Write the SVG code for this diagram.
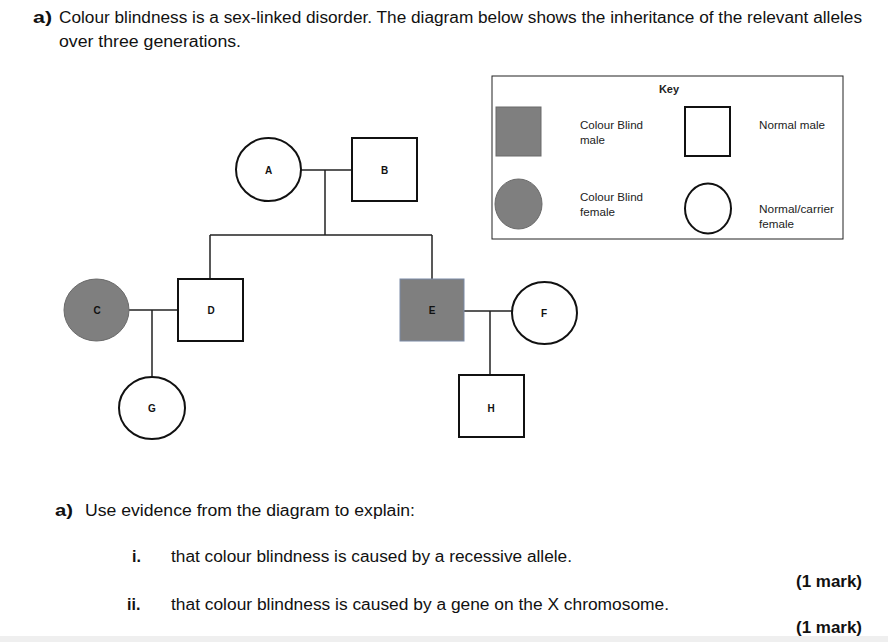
<svg xmlns="http://www.w3.org/2000/svg" width="888" height="642" viewBox="0 0 888 642">
<style>
.t{font-family:"Liberation Sans",Arial,sans-serif;font-size:16px;fill:#111}
.b{font-weight:bold}
.k{font-family:"Liberation Sans",Arial,sans-serif;font-size:11px;fill:#222}
.l{font-family:"Liberation Sans",Arial,sans-serif;font-size:10px;font-weight:bold;fill:#111;text-anchor:middle}
.w{fill:#fff;stroke:#111;stroke-width:2}
.g{fill:#7f7f7f;stroke:#6a6a6a;stroke-width:1}
.c{stroke:#222;stroke-width:1.5;fill:none}
</style>
<rect x="0" y="0" width="888" height="642" fill="#fff"/>
<rect x="0" y="636" width="888" height="6" fill="#efefef"/>
<g id="header">
<text class="t b" x="33" y="23" textLength="19" lengthAdjust="spacingAndGlyphs">a)</text>
<text class="t" x="59" y="23" textLength="803" lengthAdjust="spacingAndGlyphs">Colour blindness is a sex-linked disorder. The diagram below shows the inheritance of the relevant alleles</text>
<text class="t" x="59" y="47" textLength="182" lengthAdjust="spacingAndGlyphs">over three generations.</text>
</g>
<g id="key">
<rect x="492" y="76" width="351" height="163" fill="#fff" stroke="#222" stroke-width="1"/>
<text class="k b" x="669" y="93" text-anchor="middle">Key</text>
<rect class="g" x="496" y="107" width="45" height="49"/>
<text class="k" x="580" y="129" textLength="63" lengthAdjust="spacingAndGlyphs">Colour Blind</text>
<text class="k" x="580" y="144" textLength="25" lengthAdjust="spacingAndGlyphs">male</text>
<rect class="w" x="685" y="107" width="45" height="49"/>
<text class="k" x="759" y="129" textLength="66" lengthAdjust="spacingAndGlyphs">Normal male</text>
<ellipse class="g" cx="518.5" cy="204" rx="23.5" ry="25"/>
<text class="k" x="580" y="201" textLength="63" lengthAdjust="spacingAndGlyphs">Colour Blind</text>
<text class="k" x="580" y="216" textLength="35" lengthAdjust="spacingAndGlyphs">female</text>
<ellipse class="w" cx="708" cy="208.5" rx="23" ry="25"/>
<text class="k" x="759" y="213" textLength="75" lengthAdjust="spacingAndGlyphs">Normal/carrier</text>
<text class="k" x="759" y="228" textLength="35" lengthAdjust="spacingAndGlyphs">female</text>
</g>
<g id="connectors">
<line class="c" x1="301" y1="170" x2="352" y2="170"/>
<line class="c" x1="325" y1="170" x2="325" y2="235"/>
<line class="c" x1="210" y1="235" x2="432" y2="235"/>
<line class="c" x1="210" y1="235" x2="210" y2="279"/>
<line class="c" x1="432" y1="235" x2="432" y2="279"/>
<line class="c" x1="129" y1="310" x2="178" y2="310"/>
<line class="c" x1="152" y1="310" x2="152" y2="377"/>
<line class="c" x1="464" y1="311" x2="512" y2="311"/>
<line class="c" x1="490" y1="311" x2="490" y2="375"/>
</g>
<g id="A"><ellipse class="w" cx="268.5" cy="169.5" rx="32.5" ry="31.5"/><text class="l" x="268.5" y="174">A</text></g>
<g id="B"><rect class="w" x="352" y="138" width="65" height="63"/><text class="l" x="384.5" y="174">B</text></g>
<g id="C"><ellipse class="g" cx="96.5" cy="310" rx="32.5" ry="31"/><text class="l" x="97" y="314">C</text></g>
<g id="D"><rect class="w" x="178" y="279" width="65" height="62"/><text class="l" x="211" y="314">D</text></g>
<g id="E"><rect x="400" y="279" width="64" height="62" fill="#7f7f7f" stroke="#7a8aa6" stroke-width="1"/><text class="l" x="432" y="314">E</text></g>
<g id="F"><ellipse class="w" cx="544.5" cy="313" rx="32.5" ry="31"/><text class="l" x="544" y="317">F</text></g>
<g id="G"><ellipse class="w" cx="152" cy="408" rx="33" ry="31"/><text class="l" x="152" y="412">G</text></g>
<g id="H"><rect class="w" x="459" y="375" width="65" height="62"/><text class="l" x="491" y="412">H</text></g>
<g id="questions">
<text class="t b" x="55" y="516" textLength="18" lengthAdjust="spacingAndGlyphs">a)</text>
<text class="t" x="85" y="516" textLength="330" lengthAdjust="spacingAndGlyphs">Use evidence from the diagram to explain:</text>
<text class="t b" x="132" y="562">i.</text>
<text class="t" x="171" y="562" textLength="401" lengthAdjust="spacingAndGlyphs">that colour blindness is caused by a recessive allele.</text>
<text class="t b" x="796" y="587" textLength="66" lengthAdjust="spacingAndGlyphs">(1 mark)</text>
<text class="t b" x="127" y="610">ii.</text>
<text class="t" x="171" y="610" textLength="498" lengthAdjust="spacingAndGlyphs">that colour blindness is caused by a gene on the X chromosome.</text>
<text class="t b" x="796" y="633" textLength="66" lengthAdjust="spacingAndGlyphs">(1 mark)</text>
</g>
</svg>
